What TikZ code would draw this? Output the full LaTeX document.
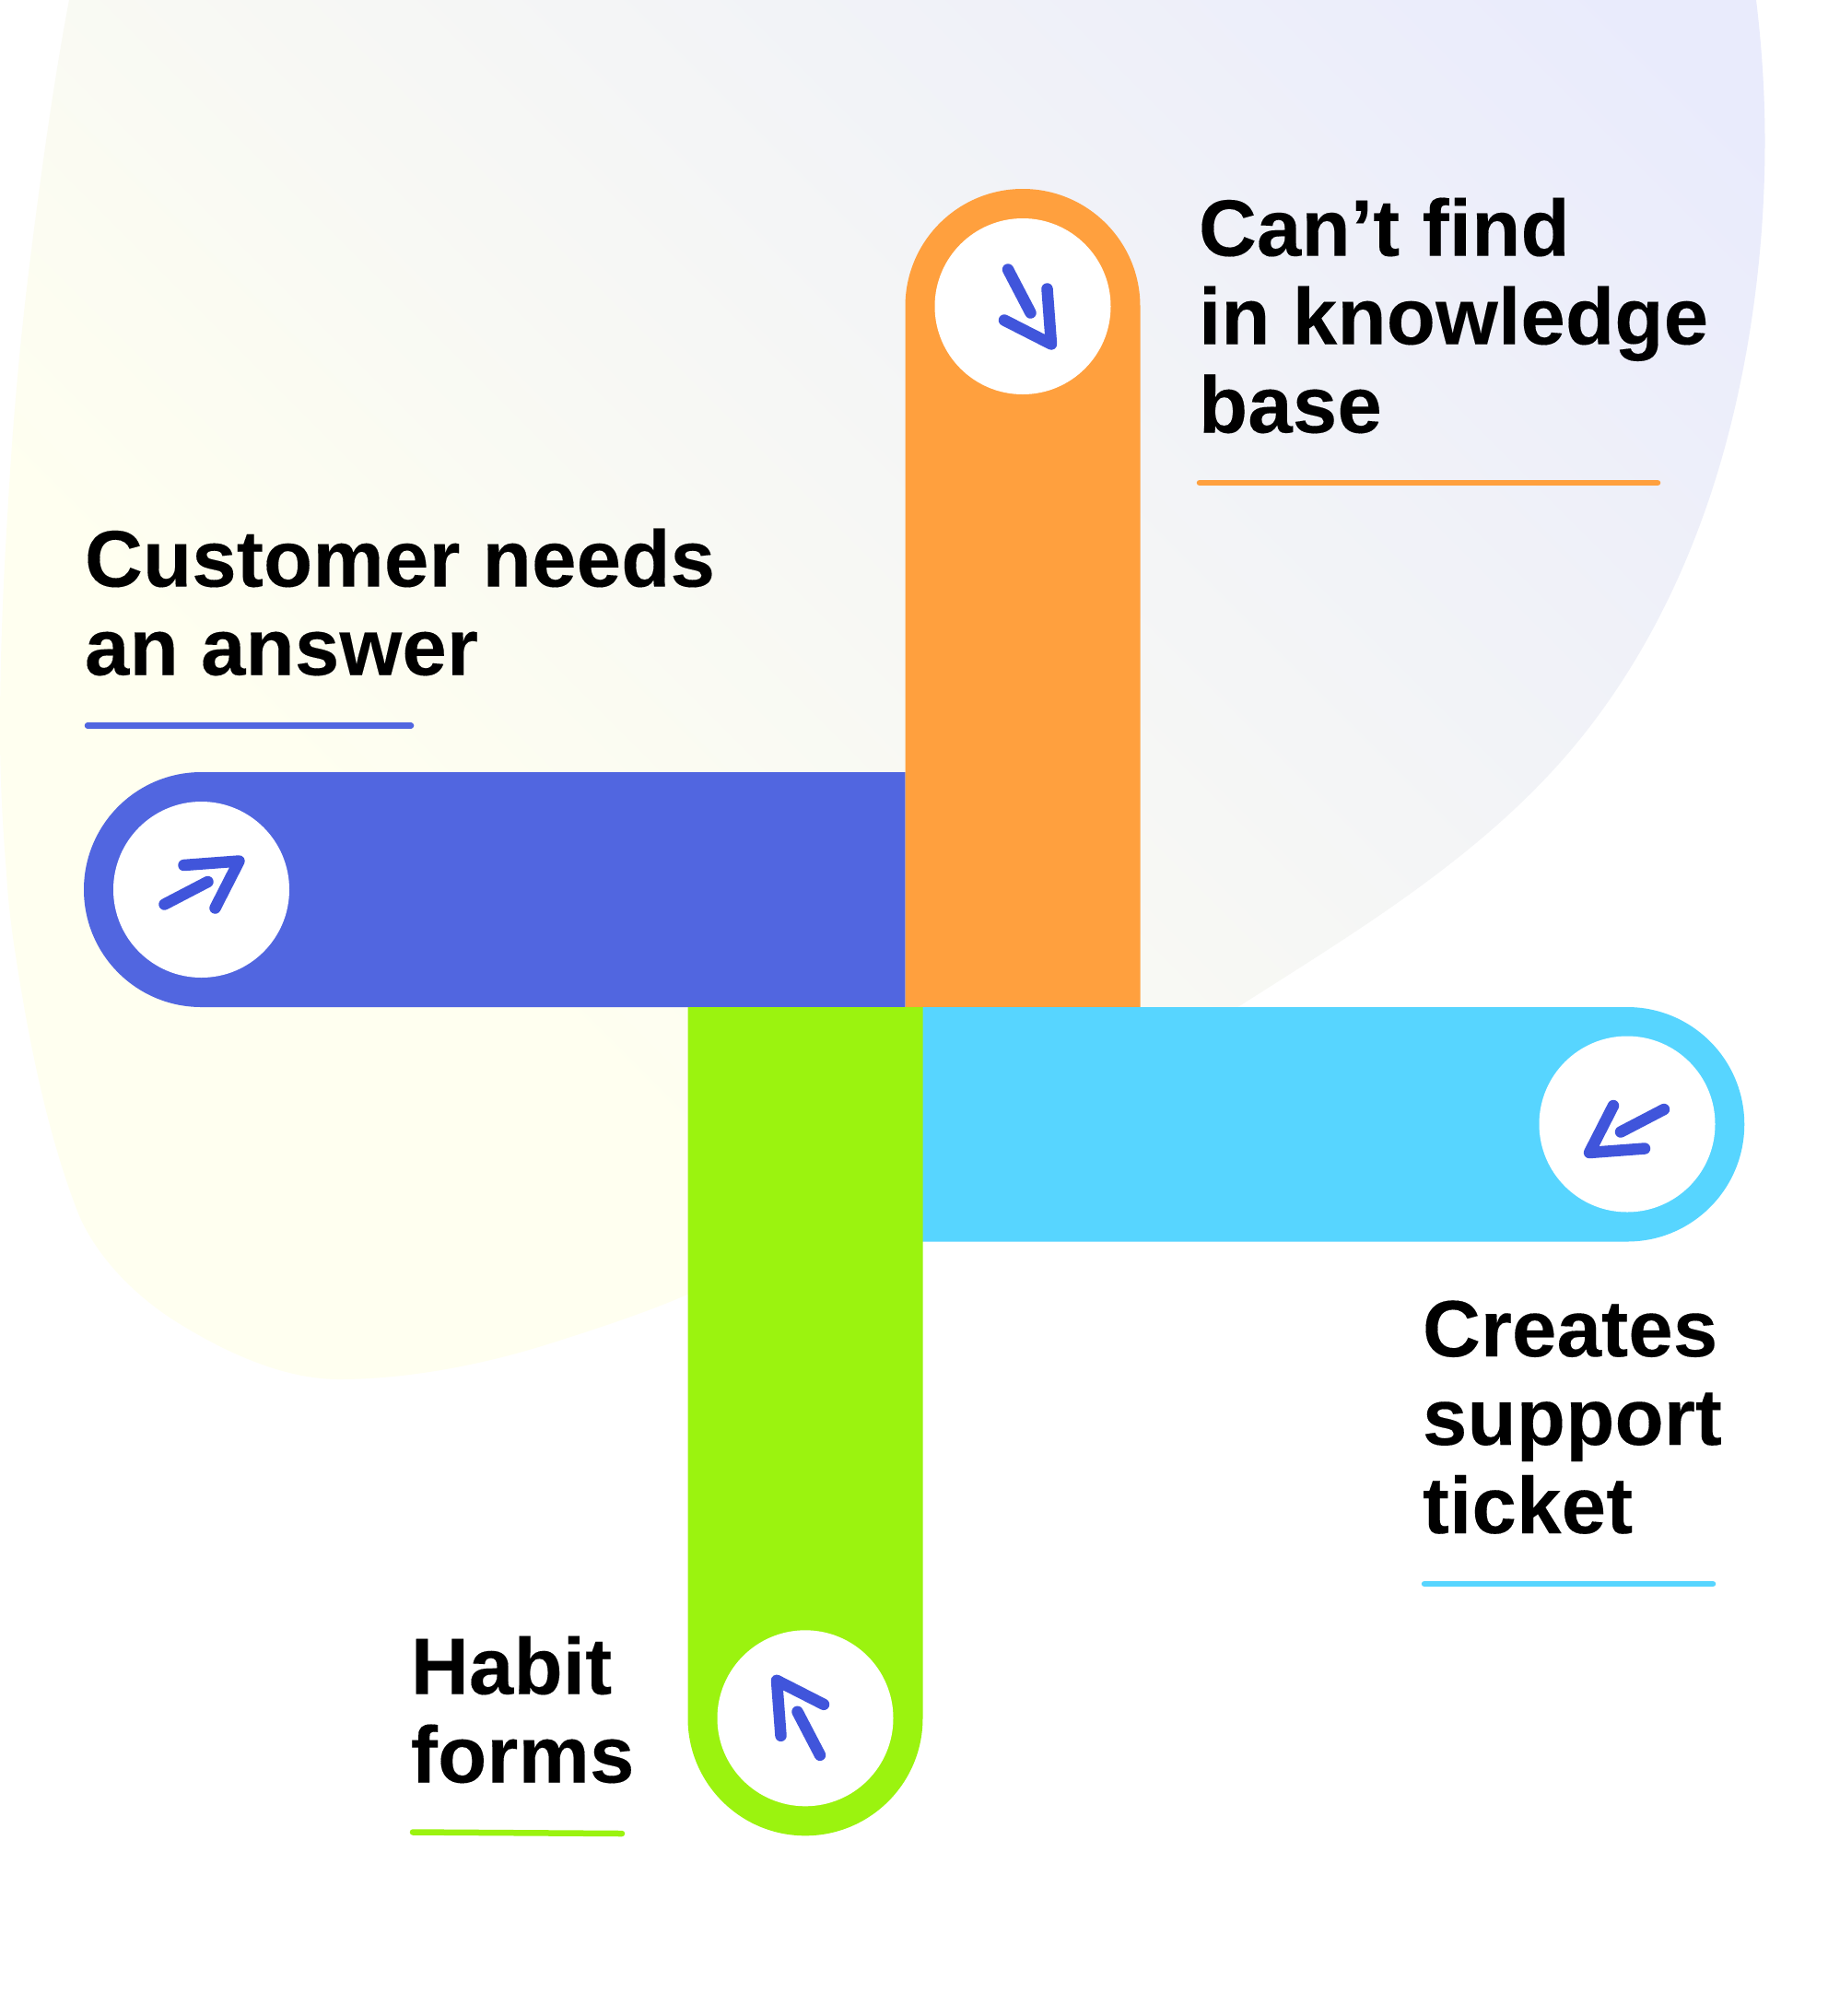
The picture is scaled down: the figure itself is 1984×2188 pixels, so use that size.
\documentclass[tikz,border=0pt]{standalone}
\usepackage{fontspec}
\setmainfont{Liberation Sans}[BoldFeatures={LetterSpace=0.25,FakeBold=0.15}]
\definecolor{cblue}{HTML}{5166E0}
\definecolor{corange}{HTML}{FFA03E}
\definecolor{ccyan}{HTML}{57D5FF}
\definecolor{cgreen}{HTML}{9BF30F}
\definecolor{carrow}{HTML}{4055DB}
\definecolor{gradA}{HTML}{FFFFF0}
\definecolor{gradB}{HTML}{E9EBFC}
\tikzset{
  x=0.02cm,y=-0.02cm,
  label text/.style={inner sep=0pt,outer sep=0pt,anchor=base west,align=left,text=black,
    font=\fontsize{49.5}{54.6}\selectfont\bfseries},
  rule line/.style={line width=0.13cm,line cap=round},
  arrow stroke/.style={carrow,line width=0.25cm,line cap=round,line join=round},
  pics/arrowicon/.style={code={
    \draw[arrow stroke] (-16,-40) -- (8.5,7);
    \draw[arrow stroke] (26.5,-19) -- (31,41) -- (-20,15);
  }}
}
\begin{document}
\begin{tikzpicture}
\useasboundingbox (0,0) rectangle (1984,2188);
\fill[white] (0,0) rectangle (1984,2188);
% background blob
\begin{scope}
\clip (75,0) .. controls (58,90) and (45,185) .. (33,280)
  .. controls (21,375) and (13,470) .. (8,561)
  .. controls (3,640) and (0,720) .. (0,793)
  .. controls (0,845) and (3,900) .. (7,947)
  .. controls (9,985) and (14,1018) .. (19,1050)
  .. controls (35,1150) and (55,1240) .. (85,1317)
  .. controls (105,1365) and (148,1407) .. (189,1433)
  .. controls (230,1459) and (300,1497) .. (368,1497)
  .. controls (440,1497) and (520,1482) .. (591,1460)
  .. controls (645,1443) and (700,1425) .. (746,1405)
  -- (1000,1300) -- (1345,1092)
  .. controls (1461,1018) and (1584,944) .. (1680,842)
  .. controls (1764,753) and (1823,642) .. (1860,526)
  .. controls (1897,410) and (1915.5,279) .. (1915.5,154)
  .. controls (1915.5,100) and (1912,50) .. (1906,0) -- cycle;
\begin{scope}[transform canvas={shift={(572,1093)},rotate=45}]
\shade[left color=gradA,right color=gradB] (0,-2500) rectangle (1620,2500);
\fill[gradA] (-2500,-2500) rectangle (1,2500);
\fill[gradB] (1619,-2500) rectangle (2500,2500);
\end{scope}
\end{scope}
% bars
\coordinate (cb) at (218.5,965.5);
\coordinate (co) at (1110,332.5);
\coordinate (cc) at (1766,1220);
\coordinate (cg) at (874,1864.8);
\fill[cblue] (982.5,838) -- (218.5,838) arc[start angle=270,end angle=90,radius=127.5] -- (982.5,1093) -- cycle;
\fill[corange] (982.5,1093) -- (982.5,332.5) arc[start angle=180,end angle=360,radius=127.5] -- (1237.5,1093) -- cycle;
\fill[ccyan] (1001,1093) -- (1766,1093) arc[start angle=270,end angle=450,radius=127.25] -- (1001,1347.5) -- cycle;
\fill[cgreen] (1001.5,1093) -- (1001.5,1864.8) arc[start angle=0,end angle=180,radius=127.5] -- (746.5,1093) -- cycle;
% white discs
\foreach \c in {cb,co,cc,cg} \fill[white] (\c) circle[radius=95.5];
% arrows
\pic at (co) {arrowicon};
\pic[rotate=90] at (cb) {arrowicon};
\pic[rotate=-90] at (cc) {arrowicon};
\pic[rotate=180] at (cg) {arrowicon};
% labels
\node[label text] (t1) at (92,732.5) {Customer needs\\an answer};
\node[label text] (t2) at (1301,469.5) {Can’t find\\in knowledge\\base};
\node[label text] (t3) at (1544,1664) {Creates\\support\\ticket};
\node[label text] (t4) at (446,1934.5) {Habit\\forms};
% rules
\draw[rule line,cblue] (95,787.5) -- (446,787.5);
\draw[rule line,corange] (1302,524) -- (1799,524);
\draw[rule line,ccyan] (1546,1719) -- (1859,1719);
\draw[rule line,cgreen] (448,1988.5) -- (675,1990);
\end{tikzpicture}
\end{document}
